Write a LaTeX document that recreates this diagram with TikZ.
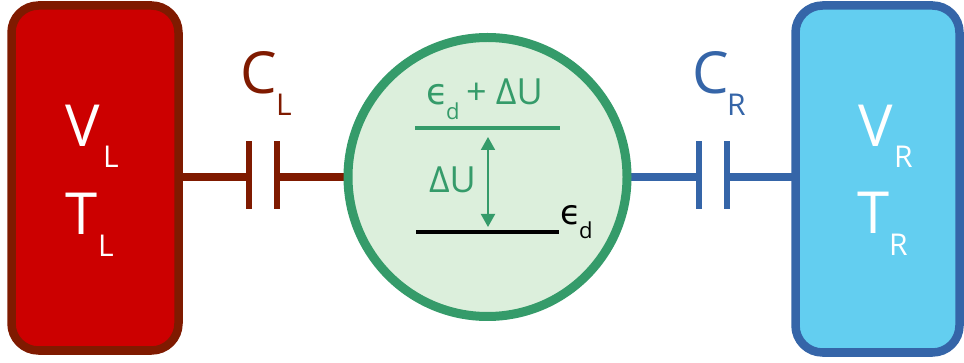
\documentclass[tikz,border=0pt]{standalone}
\usepackage{fontspec}
\setmainfont{Open Sans}
\newfontfamily\epsfont{DejaVu Sans}
\usetikzlibrary{arrows.meta}
\definecolor{redfill}{HTML}{CC0000}
\definecolor{redline}{HTML}{7F1A00}
\definecolor{bluefill}{HTML}{63CEF0}
\definecolor{blueline}{HTML}{3565A8}
\definecolor{greenline}{HTML}{359B6A}
\definecolor{greenfill}{HTML}{DCEFDC}
\newcommand{\fs}[1]{\fontsize{#1}{#1}\selectfont}
\newcommand{\eps}{{\epsfont ϵ}}
\tikzset{
  x=1pt,y=-1pt,
  lead/.style={draw=#1,fill=#1,line width=0pt,minimum width=4.5pt,minimum height=67pt,inner sep=0pt,outer sep=0pt},
  wire/.style={line width=8pt,draw=#1},
  res/.style={rounded corners=27pt,line width=8.5pt},
  lab/.style={inner sep=0pt,outer sep=0pt,anchor=base west},
  lev/.style={line width=4pt}
}
\begin{document}
\begin{tikzpicture}
\useasboundingbox (0,0) rectangle (964,363);
\clip (0,0) rectangle (964,363);
% reservoirs
\draw[res,draw=redline,fill=redfill] (11.5,5.5) rectangle (178.5,350.5);
\coordinate (lboxe) at (179,177);
\draw[res,draw=blueline,fill=bluefill] (795.5,5.5) rectangle (959.5,352.5);
\coordinate (rboxw) at (795,177);
% capacitors
\node[lead=redline] (lp1) at (249,175.5) {};
\node[lead=redline] (lp2) at (277,175.5) {};
\node[lead=blueline] (rp1) at (699,175.5) {};
\node[lead=blueline] (rp2) at (727,175.5) {};
\coordinate (dotw) at (351,177);
\coordinate (dote) at (624,177);
\draw[wire=redline] (lboxe) -- (lp1.west |- lboxe);
\draw[wire=redline] (lp2.east |- dotw) -- (dotw);
\draw[wire=blueline] (dote) -- (rp1.east |- dote);
\draw[wire=blueline] (rp2.west |- rboxw) -- (rboxw);
% dot
\node[circle,draw=greenline,fill=greenfill,line width=9pt,minimum size=279pt,inner sep=0pt,outer sep=0pt] (dot) at (487.5,177) {};
% levels
\coordinate (u1) at (415,128); \coordinate (u2) at (560,128);
\coordinate (d1) at (416,232); \coordinate (d2) at (559,232);
\coordinate (at) at (488,137); \coordinate (ab) at (488,227);
\draw[lev,draw=greenline] (u1) -- (u2);
\draw[lev,draw=black] (d1) -- (d2);
\draw[line width=2pt,draw=greenline,{Triangle[width=14pt,length=13pt]}-{Triangle[width=14pt,length=13pt]}] (at) -- (ab);
% labels
\node[lab,text=white,font=\fs{58}] (vl) at (65,147) {V};
\node[lab,text=white,font=\fs{30}] (vls) at (103,168) {L};
\node[lab,text=white,font=\fs{58}] (tl) at (65,235) {T};
\node[lab,text=white,font=\fs{30}] (tls) at (98,257) {L};
\node[lab,text=white,font=\fs{58}] (vr) at (858,147) {V};
\node[lab,text=white,font=\fs{30}] (vrs) at (894,168) {R};
\node[lab,text=white,font=\fs{58}] (tr) at (857,234) {T};
\node[lab,text=white,font=\fs{30}] (trs) at (889,256) {R};
\node[lab,text=redline,font=\fs{58}] (cl) at (240,94) {C};
\node[lab,text=redline,font=\fs{30}] (cls) at (276,116) {L};
\node[lab,text=blueline,font=\fs{58}] (cr) at (692,94) {C};
\node[lab,text=blueline,font=\fs{30}] (crs) at (727,116) {R};
\node[lab,text=greenline,font=\fs{36}] (e1) at (426,105) {\eps};
\node[lab,text=greenline,font=\fs{22}] (e1s) at (446,120) {d};
\node[lab,text=greenline,font=\fs{36}] (e1r) at (466,105) {+ ΔU};
\node[lab,text=greenline,font=\fs{36}] (du) at (429,193) {ΔU};
\node[lab,text=black,font=\fs{34}] (e2) at (560,225) {\eps};
\node[lab,text=black,font=\fs{22}] (e2s) at (579,239) {d};
\end{tikzpicture}
\end{document}
